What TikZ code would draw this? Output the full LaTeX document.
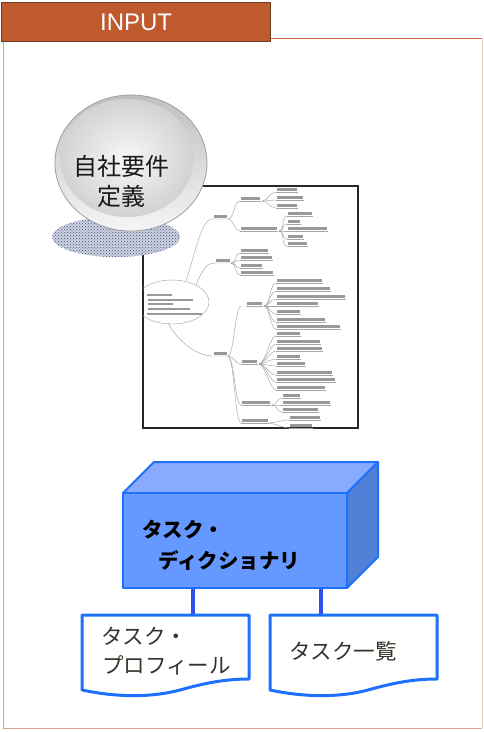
\documentclass[tikz,border=0pt]{standalone}
\usepackage{fontspec}
\setmainfont{Liberation Sans}
\newfontfamily\jp{Noto Sans CJK JP}
\usetikzlibrary{patterns}
\definecolor{hdrfill}{HTML}{BE5A2E}
\definecolor{hdrdraw}{HTML}{6E3A20}
\definecolor{frametop}{HTML}{D0703E}
\definecolor{frameside}{HTML}{DDA08A}
\definecolor{frameright}{HTML}{E8CCBE}
\definecolor{boxfront}{HTML}{6699FF}
\definecolor{boxtop}{HTML}{88AAFF}
\definecolor{boxside}{HTML}{5080D6}
\definecolor{boxline}{HTML}{1E70FF}
\definecolor{connc}{HTML}{3050EE}
\definecolor{doctext}{HTML}{34342A}
\definecolor{shadowc}{HTML}{42507E}
\definecolor{shadowbg}{HTML}{CDD2E0}
\tikzset{
  mmtext/.style={fill=gray!80},
  mmline/.style={draw=gray!70, line width=0.45pt},
  facestyle/.style={draw=boxline, line width=2pt, line join=round},
  docstyle/.style={draw=boxline, fill=white, line width=3pt, line join=round},
  conn/.style={draw=connc, line width=4pt},
  jptext/.style={anchor=base west, inner sep=0pt},
}
\newcommand\mmbar[3]{\fill[mmtext] (#1,#3-1.5) rectangle (#2,#3+1.5); \draw[mmline] (#1-1,#3+3) -- (#2+1,#3+3);}
\newcommand\mmtxt[3]{\fill[mmtext] (#1,#3-1.4) rectangle (#2,#3+1.4);}
\newcommand\mmlink[4]{\draw[mmline] (#1,#2) .. controls ({#1+6},#2) and ({#3-6},#4) .. (#3,#4);}
\begin{document}
\begin{tikzpicture}[x=1pt,y=-1pt]
\useasboundingbox (0,0) rectangle (484,732);

% frame
\draw[frametop, line width=1pt] (270,38) -- (483,38);
\draw[frameright, line width=1pt] (482.5,38) -- (482.5,728);
\draw[frameside, line width=1pt] (482,728) -- (3,728) -- (3,41);

% header tab
\node[draw=hdrdraw, fill=hdrfill, line width=1.2pt, minimum width=269pt,
      minimum height=39pt, inner sep=0pt, anchor=north west, text=white,
      font=\fontsize{24}{24}\selectfont] (hdr) at (1,2) {INPUT};

% embedded mind map picture
\draw[fill=white, draw=black!85, line width=1.5pt] (143,186) rectangle (358,428);
\begin{scope}
\clip (143,186) rectangle (358,428);
% central bubble
\draw[mmline] (172,302) ellipse [x radius=37, y radius=22];
\mmtxt{147}{172}{295}
\mmtxt{148}{193}{300}
\mmtxt{148}{173}{304}
\mmtxt{148}{190}{309}
\mmtxt{147}{202}{314}
% main branches
\draw[mmline] (186,281) .. controls (196,250) and (202,219) .. (212,219) -- (228,219);
\fill[mmtext] (214,214.5) rectangle (227,217.5);
\draw[mmline] (196,285) .. controls (204,266) and (208,263) .. (215,263) -- (231,263);
\fill[mmtext] (216,258.5) rectangle (230,261.5);
\draw[mmline] (168,323) .. controls (180,345) and (200,356) .. (212,356) -- (228,356);
\fill[mmtext] (214,351.5) rectangle (227,354.5);
% branch A
\mmlink{228}{219}{240}{201}
\mmbar{241}{260}{198}
\mmlink{228}{219}{240}{231}
\mmbar{241}{277}{228}
\foreach \y/\w in {189/297,197/303,205/297} {\mmlink{262}{201}{276}{\y+3}\mmbar{277}{\w}{\y}}
\foreach \y/\w in {213/312,221/300,228/327,236/303,243/307} {\mmlink{279}{231}{287}{\y+3}\mmbar{288}{\w}{\y}}
% branch B
\foreach \y/\w in {250/268,257/272,265/262,272/273} {\mmlink{231}{263}{240}{\y+3}\mmbar{241}{\w}{\y}}
% branch C
\foreach \y in {306,364,405,423} {\mmlink{228}{356}{241}{\y}}
\mmbar{247}{262}{303}
\mmbar{242}{257}{361}
\mmbar{242}{270}{402}
\mmbar{242}{268}{420}
\foreach \y/\w in {280/322,288/330,296/345,303/318,311/300,319/325,326/340} {\mmlink{264}{306}{276}{\y+3}\mmbar{277}{\w}{\y}}
\foreach \y/\w in {333/300,341/320,348/322,356/300,363/305,372/332,379/335,387/325} {\mmlink{259}{364}{276}{\y+3}\mmbar{277}{\w}{\y}}
\foreach \y/\w in {395/300,402/330,409/318} {\mmlink{272}{405}{282}{\y+3}\mmbar{283}{\w}{\y}}
\foreach \y/\w in {417/320,425/312} {\mmlink{268}{423}{289}{\y+3}\mmbar{290}{\w}{\y}}
\end{scope}

% button shadow
\fill[shadowbg] (116,237) ellipse [x radius=64, y radius=20];
\fill[pattern=crosshatch dots, pattern color=shadowc] (116,237) ellipse [x radius=64, y radius=20];

% button
\shade[top color=gray!50, bottom color=gray!8, draw=gray!75, line width=0.8pt]
  (131,163) ellipse [x radius=76, y radius=68];
\shade[inner color=gray!6, outer color=gray!35]
  (127,158) ellipse [x radius=67, y radius=59];
\node[jptext, font=\jp\fontsize{24}{28}\selectfont, text=black!90] (btn1) at (73,175) {自社要件};
\node[jptext, font=\jp\fontsize{24}{28}\selectfont, text=black!90] (btn2) at (97,205) {定義};

% 3D box
\coordinate (fTL) at (123,493);
\coordinate (fTR) at (347,493);
\coordinate (fBR) at (347,588);
\coordinate (fBL) at (123,588);
\coordinate (bTL) at (154,462);
\coordinate (bTR) at (378,462);
\coordinate (bBR) at (378,557);
\filldraw[facestyle, fill=boxtop] (fTL) -- (bTL) -- (bTR) -- (fTR) -- cycle;
\filldraw[facestyle, fill=boxside] (fTR) -- (bTR) -- (bBR) -- (fBR) -- cycle;
\filldraw[facestyle, fill=boxfront] (fTL) -- (fTR) -- (fBR) -- (fBL) -- cycle;
\node[jptext, font=\jp\bfseries\fontsize{20.5}{24}\selectfont] (dict1) at (142,537) {タスク・};
\node[jptext, font=\jp\bfseries\fontsize{20.5}{24}\selectfont] (dict2) at (158,568) {ディクショナリ};

% connectors
\coordinate (c1a) at (193,589);
\coordinate (c1b) at (193,614);
\coordinate (c2a) at (321,589);
\coordinate (c2b) at (321,614);
\draw[conn] (c1a) -- (c1b);
\draw[conn] (c2a) -- (c2b);

% documents
\draw[docstyle] (82,615) -- (249,615) -- (249,679)
  .. controls (225,679) and (205,683) .. (180,690)
  .. controls (150,698) and (115,697) .. (82,690) -- cycle;
\draw[docstyle] (270,615) -- (437,615) -- (437,679)
  .. controls (413,679) and (393,683) .. (368,690)
  .. controls (338,698) and (303,697) .. (270,690) -- cycle;
\node[jptext, font=\jp\fontsize{21.5}{26}\selectfont, text=doctext] (d1a) at (101,644) {タスク・};
\node[jptext, font=\jp\fontsize{21.5}{26}\selectfont, text=doctext] (d1b) at (102,673) {プロフィール};
\node[jptext, font=\jp\fontsize{21.5}{26}\selectfont, text=doctext] (d2) at (289,659) {タスク一覧};
\end{tikzpicture}
\end{document}
